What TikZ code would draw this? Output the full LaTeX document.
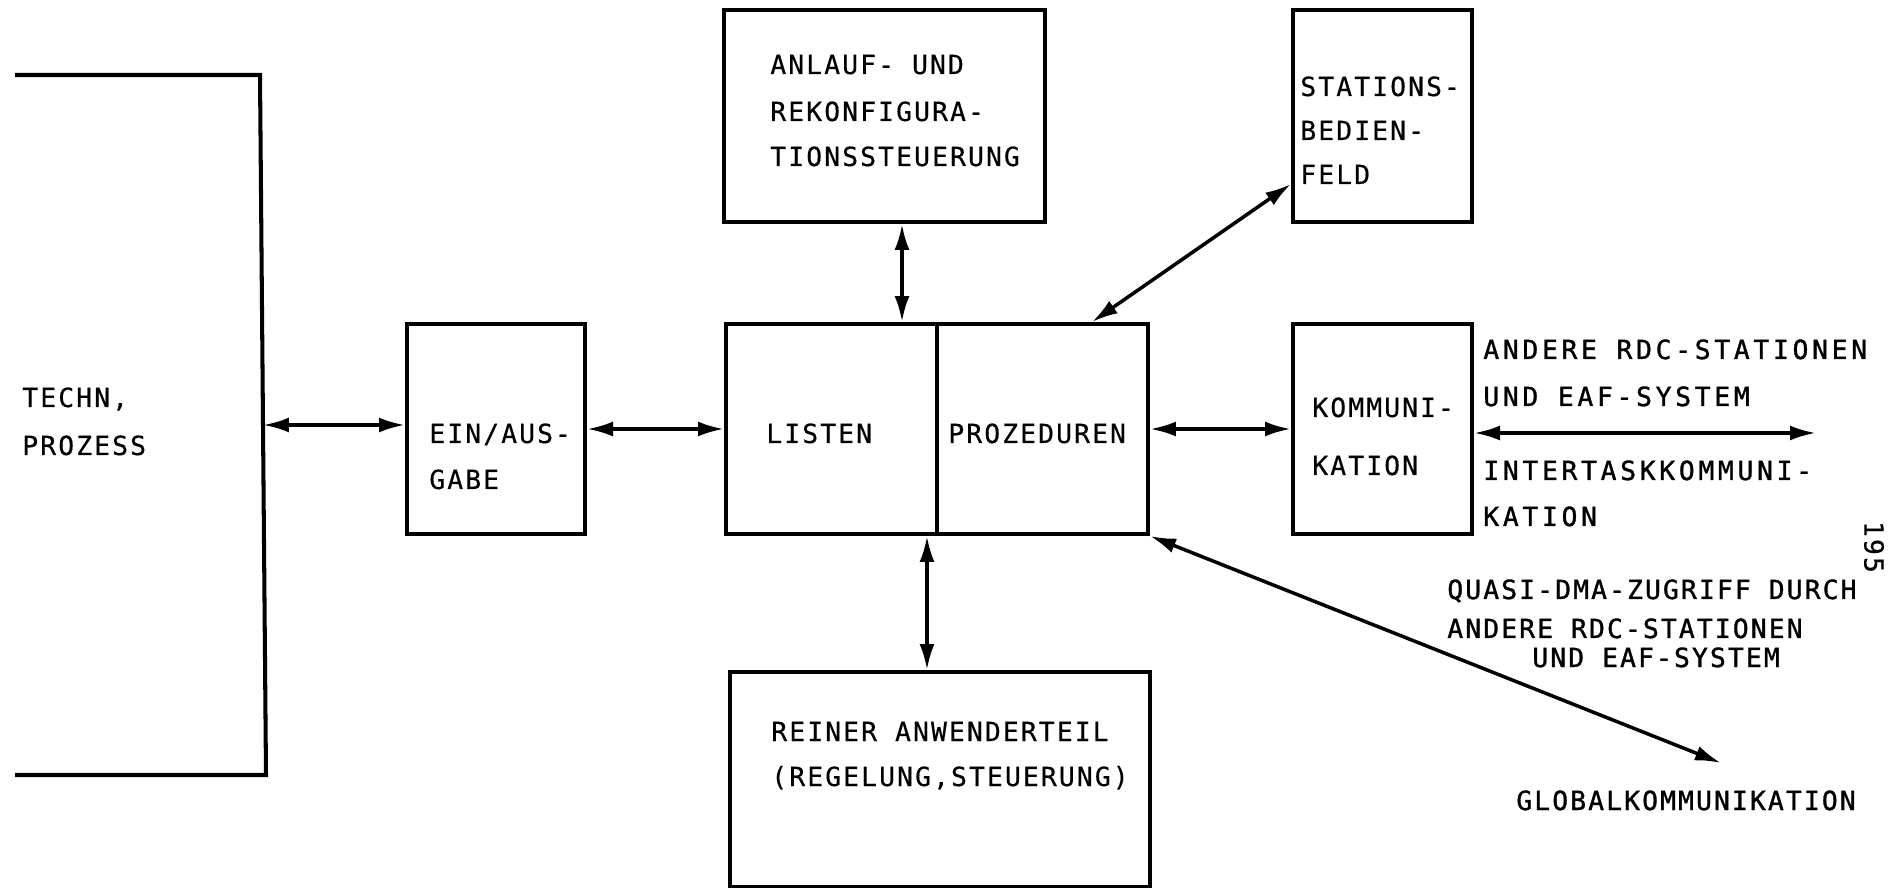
\documentclass[tikz,border=0pt]{standalone}
\usepackage{fontspec}
\usetikzlibrary{arrows.meta,calc}
\newfontfamily\plotfont[LetterSpace=8,FakeBold=0.4]{DejaVu Sans Mono}
\newfontfamily\plotfontheavy[LetterSpace=8,FakeBold=1.2]{DejaVu Sans Mono}
\newfontfamily\plotfontwide[LetterSpace=14,FakeBold=1.2]{DejaVu Sans Mono}

\begin{document}
\begin{tikzpicture}[x=0.02cm,y=-0.02cm,
  box/.style={draw, line width=2.3pt, inner sep=0pt},
  lbl/.style={anchor=base west, inner sep=0pt, font=\plotfont\fontsize{15}{18}\selectfont},
  hlbl/.style={anchor=base west, inner sep=0pt, font=\plotfontheavy\fontsize{15}{18}\selectfont},
  wlbl/.style={anchor=base west, inner sep=0pt, font=\plotfontwide\fontsize{15}{18}\selectfont},
  tip/.tip={Latex[length=0.52cm,width=0.3cm]},
  conn/.style={line width=2pt, tip-tip},
]
\useasboundingbox (0,0) rectangle (1898,888);

% technical process (open bracket on the left)
\draw[line width=2.3pt, line join=miter] (15,75) -- (260,75) -- (266,775) -- (15,775);
\coordinate (proc) at (263,425);
\node[lbl] (t-proc1) at (22,407) {TECHN,};
\node[lbl] (t-proc2) at (22,455) {PROZESS};

% boxes
\node[box, minimum width=3.56cm, minimum height=4.2cm]  (ein)    at (496,429)   {};
\node[box, minimum width=8.44cm, minimum height=4.2cm]  (main)   at (937,429)   {};
\node[box, minimum width=6.42cm, minimum height=4.24cm] (anlauf) at (884.5,116) {};
\node[box, minimum width=3.58cm, minimum height=4.24cm] (stat)   at (1382.5,116) {};
\node[box, minimum width=3.58cm, minimum height=4.2cm]  (komm)   at (1382.5,429) {};
\node[box, minimum width=8.4cm,  minimum height=4.3cm]  (reiner) at (940,779.5) {};
\draw[line width=2.3pt] (main.north) -- (main.south);

% box texts
\node[lbl] (t-ein1) at (429,443) {EIN/AUS-};
\node[lbl] (t-ein2) at (429,489) {GABE};
\node[lbl] (t-list) at (766,443) {LISTEN};
\node[lbl] (t-proz) at (948,443) {PROZEDUREN};
\node[lbl] (t-anl1) at (770,74)  {ANLAUF- UND};
\node[lbl] (t-anl2) at (770,121) {REKONFIGURA-};
\node[lbl] (t-anl3) at (770,166) {TIONSSTEUERUNG};
\node[lbl] (t-sta1) at (1300,96)  {STATIONS-};
\node[lbl] (t-sta2) at (1300,140) {BEDIEN-};
\node[lbl] (t-sta3) at (1300,184) {FELD};
\node[lbl] (t-kom1) at (1312,417) {KOMMUNI-};
\node[lbl] (t-kom2) at (1312,475) {KATION};
\node[lbl] (t-rei1) at (771,741) {REINER ANWENDERTEIL};
\node[lbl] (t-rei2) at (771,786) {(REGELUNG,STEUERUNG)};

% outer labels
\node[wlbl] (t-and1) at (1483,359) {ANDERE RDC-STATIONEN};
\node[wlbl] (t-and2) at (1483,406) {UND EAF-SYSTEM};
\node[wlbl] (t-int1) at (1483,480) {INTERTASKKOMMUNI-};
\node[wlbl] (t-int2) at (1483,526) {KATION};
\node[hlbl] (t-qua1) at (1447,599) {QUASI-DMA-ZUGRIFF DURCH};
\node[hlbl] (t-qua2) at (1447,638) {ANDERE RDC-STATIONEN};
\node[hlbl] (t-qua3) at (1532,667) {UND EAF-SYSTEM};
\node[hlbl] (t-glob) at (1516,810) {GLOBALKOMMUNIKATION};
\node[lbl, anchor=center, rotate=-90] (page) at (1874,547) {195};

% connectors
\coordinate (ax)   at (902,0);
\coordinate (rx)   at (927,0);
\coordinate (sx)   at (1092,0);
\coordinate (ext)  at (1816,433);
\coordinate (glob) at (1721,763);
\draw[conn] (proc) -- (ein.west |- proc);
\draw[conn] (ein.east) -- (main.west);
\draw[conn] (main.east) -- (komm.west);
\draw[conn] (komm.east |- ext) -- (ext);
\draw[conn] (anlauf.south -| ax) -- (main.north -| ax);
\draw[conn] (main.south -| rx) -- (reiner.north -| rx);
\draw[conn] (main.north -| sx) -- ($(stat.south west)+(0,-40)$);
\draw[conn] (main.south east) -- (glob);
\end{tikzpicture}
\end{document}
